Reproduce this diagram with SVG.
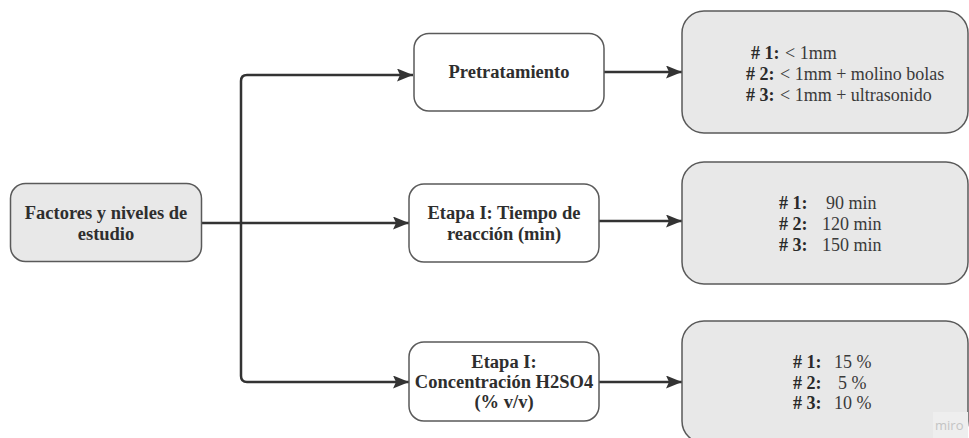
<svg xmlns="http://www.w3.org/2000/svg" width="969" height="438" viewBox="0 0 969 438">
<style>
.node rect{stroke:#5a5a5a;stroke-width:1.5}
.white rect{fill:#ffffff}
.gray rect{fill:#e8e8e8}
.lbl{font-family:"Liberation Serif","Times New Roman",serif;font-weight:bold;font-size:18.5px;fill:#2e2e2e;text-anchor:middle}
.val{font-family:"Liberation Serif","Times New Roman",serif;font-size:18px;fill:#3a3a3a}
.val tspan.b{font-weight:bold;fill:#2a2a2a}
.conn path{fill:none;stroke:#333333;stroke-width:2.5}
</style>
<defs>
<marker id="ah" markerUnits="userSpaceOnUse" markerWidth="16" markerHeight="13" refX="16" refY="6.5" orient="auto">
<path d="M0,0 L16,6.5 L0,13 L3,6.5 z" fill="#333333"/>
</marker>
</defs>
<g id="connectors" class="conn">
<path d="M202,223 H241"/>
<path d="M241,223 V81 Q241,75 247,75 H413" marker-end="url(#ah)"/>
<path d="M241,223 H409" marker-end="url(#ah)"/>
<path d="M241,223 V376 Q241,382 247,382 H409" marker-end="url(#ah)"/>
<path d="M604,72 H682" marker-end="url(#ah)"/>
<path d="M599,221 H682" marker-end="url(#ah)"/>
<path d="M599,382 H682" marker-end="url(#ah)"/>
</g>
<g id="factores" class="node gray">
<rect x="10.5" y="183.5" width="191" height="78" rx="15"/>
<text class="lbl" x="106" y="219">Factores y niveles de</text>
<text class="lbl" x="106" y="240">estudio</text>
</g>
<g id="pretratamiento" class="node white">
<rect x="414" y="33.5" width="190" height="77.5" rx="15"/>
<text class="lbl" x="509" y="78">Pretratamiento</text>
</g>
<g id="tiempo" class="node white">
<rect x="409" y="184" width="190" height="78" rx="15"/>
<text class="lbl" x="504" y="219">Etapa I: Tiempo de</text>
<text class="lbl" x="504" y="240">reacción (min)</text>
</g>
<g id="concentracion" class="node white">
<rect x="409" y="342" width="190" height="79" rx="15"/>
<text class="lbl" x="504" y="368">Etapa I:</text>
<text class="lbl" x="504" y="388">Concentración H2SO4</text>
<text class="lbl" x="504" y="408">(% v/v)</text>
</g>
<g id="niveles-pretratamiento" class="node gray">
<rect x="682" y="11" width="286" height="122" rx="22"/>
<text class="val" x="751" y="59"><tspan class="b"># 1:</tspan><tspan x="785">&lt; 1mm</tspan></text>
<text class="val" x="746" y="80"><tspan class="b"># 2:</tspan><tspan x="780">&lt; 1mm + molino bolas</tspan></text>
<text class="val" x="746" y="101"><tspan class="b"># 3:</tspan><tspan x="780">&lt; 1mm + ultrasonido</tspan></text>
</g>
<g id="niveles-tiempo" class="node gray">
<rect x="682" y="162" width="286" height="122" rx="22"/>
<text class="val" x="779" y="209"><tspan class="b"># 1:</tspan><tspan x="826">90 min</tspan></text>
<text class="val" x="779" y="230"><tspan class="b"># 2:</tspan><tspan x="822">120 min</tspan></text>
<text class="val" x="779" y="251"><tspan class="b"># 3:</tspan><tspan x="822">150 min</tspan></text>
</g>
<g id="niveles-concentracion" class="node gray">
<rect x="682" y="321" width="286" height="122" rx="22"/>
<text class="val" x="793" y="368"><tspan class="b"># 1:</tspan><tspan x="834">15 %</tspan></text>
<text class="val" x="793" y="389"><tspan class="b"># 2:</tspan><tspan x="838">5 %</tspan></text>
<text class="val" x="793" y="409"><tspan class="b"># 3:</tspan><tspan x="834">10 %</tspan></text>
</g>
<g id="watermark">
<rect x="933" y="412" width="35" height="26" fill="#eeeeee"/>
<text x="935" y="430" font-family="Open Sans, sans-serif" font-size="13" fill="#c4c4c4">miro</text>
</g>
</svg>
